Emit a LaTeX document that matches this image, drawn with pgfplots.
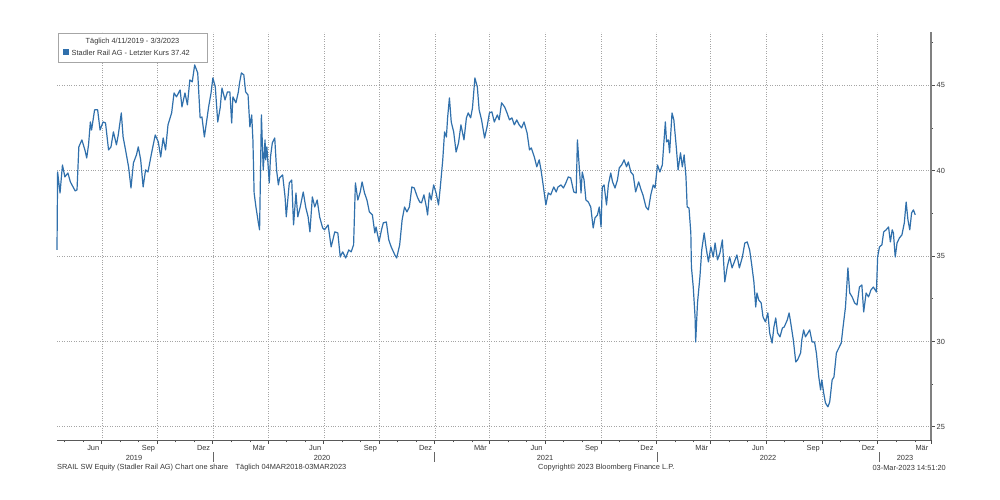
\documentclass[border=0pt]{standalone}
\usepackage{fontspec}
\setmainfont{Liberation Sans}
\usepackage{pgfplots}
\pgfplotsset{compat=1.18}
\definecolor{linec}{RGB}{48,112,172}
\definecolor{gridc}{RGB}{165,165,165}
\definecolor{txt}{RGB}{55,55,55}
\newcommand{\fs}{\fontsize{7.4bp}{8.5bp}\selectfont}
\begin{document}
\begin{tikzpicture}
\fill[white] (0,0) rectangle (1000bp,500bp);
\useasboundingbox (0,0) rectangle (1000bp,500bp);
\begin{axis}[
  at={(57bp,59.5bp)}, anchor=south west,
  scale only axis, width=874bp, height=408bp,
  xmin=-257, xmax=1184, ymin=24.2, ymax=48.1,
  axis x line*=bottom, axis y line*=right,
  x axis line style={black!65, line width=0.8bp},
  y axis line style={black!50, line width=1.6bp},
  xtick={-183,-91,0,91,183,275,366,456,548,640,731,821,913,1005,1096,1184},
  xticklabels={Jun,Sep,Dez,Mär,Jun,Sep,Dez,Mär,Jun,Sep,Dez,Mär,Jun,Sep,Dez,Mär},
  minor xtick={-244,-214,-153,-122,-61,-30,31,62,122,152,213,244,305,336,397,428,487,517,578,609,670,701,762,793,852,882,943,974,1035,1066,1127,1158},
  ytick={25,30,35,40,45},
  minor ytick={27.5,32.5,37.5,42.5,47.5},
  tick align=outside,
  major tick length=3.5bp, minor tick length=2bp,
  every tick/.style={black!70, line width=0.8bp},
  grid=major,
  major grid style={gridc, dash pattern=on 0.8bp off 1.6bp, line width=0.7bp},
  ticklabel style={font=\fs, text=txt},
  /pgf/number format/assume math mode=true,
  xticklabel style={anchor=north east, inner sep=0pt, xshift=-2.5bp, yshift=-1bp},
  yticklabel style={anchor=west, inner sep=0pt, xshift=2bp},
  clip=false,
]
\addplot[linec, line width=1.2bp, line join=round] coordinates {
(-257,35.36)(-256,39.93)(-252,38.70)(-248,40.34)(-244,39.64)(-239,39.87)(-235,39.35)(-227,38.82)(-224,38.88)
(-221,41.40)(-216,41.81)(-211,41.22)(-208,40.75)(-205,41.52)(-202,42.86)(-200,42.39)(-195,43.57)(-190,43.57)
(-186,42.39)(-181,42.86)(-177,42.80)(-172,41.22)(-168,41.40)(-164,42.28)(-159,41.52)(-156,42.10)(-151,43.39)
(-148,41.98)(-144,41.22)(-139,40.23)(-135,38.99)(-131,40.46)(-126,40.93)(-123,41.40)(-119,40.64)(-115,39.05)
(-111,40.05)(-107,39.93)(-101,41.05)(-95,42.10)(-90,41.69)(-86,40.81)(-82,41.92)(-78,41.22)(-74,42.69)
(-68,43.39)(-64,44.56)(-60,44.33)(-54,44.74)(-51,43.74)(-46,44.56)(-42,43.86)(-38,45.32)(-34,45.21)
(-30,46.20)(-25,45.73)(-21,43.10)(-18,43.15)(-14,41.98)(-10,42.98)(-7,43.74)(-3,44.56)(0,45.44)
(4,44.91)(8,42.86)(12,43.68)(15,44.85)(20,44.15)(24,44.62)(28,44.62)(31,42.80)(33,44.33)(38,43.98)
(42,44.62)(44,45.15)(47,45.73)(51,45.62)(54,44.62)(58,44.44)(61,42.57)(64,43.27)(66,41.81)(68,38.70)
(71,37.88)(75,36.95)(77,36.54)(80,43.27)(83,40.05)(86,41.81)(87,40.64)(89,41.40)(93,39.29)(95,40.81)
(98,41.63)(102,41.92)(105,40.05)(108,39.17)(110,39.58)(115,39.76)(119,38.47)(121,37.30)(126,39.29)
(130,39.46)(133,36.83)(137,38.70)(140,37.30)(144,37.88)(149,38.76)(153,37.88)(157,37.30)(160,36.42)
(164,38.47)(168,37.88)(172,38.29)(176,37.30)(181,36.65)(184,36.54)(190,36.83)(195,35.54)(201,36.42)
(206,36.36)(210,34.95)(214,35.25)(219,34.89)(224,35.36)(228,35.25)(232,35.66)(235,39.29)(239,38.29)
(243,38.76)(246,39.35)(250,38.70)(254,38.29)(258,37.59)(263,37.41)(267,36.36)(269,36.71)(274,35.83)
(278,36.54)(281,36.95)(286,37.00)(290,35.95)(294,35.54)(300,35.07)(303,34.89)(308,35.66)(312,37.12)
(316,37.88)(320,37.59)(324,37.88)(328,39.05)(332,38.99)(337,38.47)(341,38.17)(344,38.12)(348,38.59)
(352,37.88)(354,37.41)(357,38.70)(360,38.29)(364,39.17)(368,38.70)(372,38.00)(375,39.05)(379,40.64)
(382,42.28)(385,41.98)(387,43.10)(390,44.27)(393,42.86)(397,42.28)(401,41.10)(405,41.63)(409,42.69)
(414,41.81)(418,43.10)(421,43.39)(425,43.10)(428,43.68)(432,45.44)(436,44.91)(439,43.57)(443,42.98)
(448,41.92)(452,42.57)(456,43.39)(460,43.45)(464,42.86)(469,43.27)(472,42.98)(476,43.98)(481,43.74)
(485,43.39)(489,42.98)(493,43.10)(497,42.69)(501,42.98)(505,42.69)(509,42.51)(513,42.86)(518,42.22)
(522,41.22)(525,41.34)(530,40.81)(534,40.23)(538,40.64)(541,40.05)(545,39.05)(549,38.00)(553,38.70)
(557,38.59)(562,39.05)(566,38.76)(569,39.05)(574,39.17)(578,38.99)(582,39.29)(586,39.64)(590,39.58)
(595,38.76)(599,38.70)(601,41.81)(607,38.70)(609,39.93)(612,39.46)(615,38.29)(619,38.17)(623,37.88)
(627,36.65)(630,37.24)(634,37.41)(637,37.88)(640,36.71)(642,39.05)(645,39.17)(649,38.00)(652,39.17)
(656,39.87)(659,39.35)(663,38.99)(667,39.46)(670,40.17)(674,40.34)(678,40.64)(682,40.23)(685,40.52)
(689,39.93)(693,39.76)(697,38.76)(702,39.35)(706,38.88)(709,38.59)(714,37.88)(718,37.71)(722,38.59)
(726,39.17)(729,38.99)(733,40.34)(737,39.93)(741,40.34)(746,42.86)(748,41.69)(751,41.81)(753,41.05)
(757,43.39)(760,42.98)(764,41.40)(767,40.05)(771,41.05)(774,40.23)(777,40.93)(780,39.64)(782,37.88)
(785,37.82)(788,36.36)(789,34.37)(792,33.19)(795,31.44)(796,29.97)(799,32.26)(803,33.78)(806,35.36)
(810,36.36)(813,35.54)(817,34.66)(821,35.54)(825,34.95)(828,35.77)(832,34.78)(836,35.19)(840,35.95)
(844,33.49)(848,34.37)(852,34.95)(856,34.31)(861,34.78)(864,35.07)(868,34.31)(873,34.95)(877,35.77)
(881,35.83)(885,35.36)(888,34.60)(892,33.49)(895,32.02)(897,32.84)(900,32.43)(904,32.26)(907,31.44)
(911,31.15)(915,31.67)(918,30.50)(922,29.91)(925,30.85)(928,31.38)(931,30.50)(935,30.27)(939,30.79)
(942,30.85)(947,31.26)(950,31.67)(952,31.26)(957,30.09)(961,28.80)(964,28.92)(969,29.33)(971,30.09)
(974,30.68)(977,30.27)(981,30.50)(984,30.68)(988,29.97)(992,29.97)(995,29.33)(999,27.92)(1002,27.16)
(1004,27.75)(1007,26.99)(1010,26.40)(1014,26.17)(1017,26.46)(1021,27.75)(1024,27.92)(1028,29.33)
(1032,29.62)(1036,29.91)(1039,30.85)(1043,32.02)(1047,34.31)(1050,32.84)(1054,32.61)(1058,32.26)
(1062,32.14)(1066,33.19)(1070,33.31)(1073,31.73)(1077,32.84)(1081,32.61)(1085,33.02)(1089,33.19)
(1094,32.90)(1096,34.95)(1099,35.54)(1103,35.66)(1106,36.42)(1110,36.54)(1114,36.71)(1117,35.83)
(1120,36.54)(1122,36.36)(1125,34.95)(1128,35.77)(1132,36.07)(1136,36.24)(1140,36.95)(1143,38.17)
(1146,37.12)(1149,36.54)(1152,37.53)(1155,37.71)(1158,37.42)
};
\end{axis}
% legend box
\draw[black!35, fill=white] (58bp,467bp) rectangle (207bp,438bp);
\node[font=\fs, text=txt] at (132.5bp,458bp) {Täglich 4/11/2019 - 3/3/2023};
\fill[linec] (63bp,444.5bp) rectangle (69bp,450.5bp);
\node[font=\fs, text=txt, anchor=west, inner sep=0pt] at (71.5bp,447.5bp) {Stadler Rail AG - Letzter Kurs 37.42};
% years
\foreach \xx/\yy in {134/2019,322/2020,545/2021,768/2022,905/2023}
  \node[font=\fs, text=txt] at (\xx bp,42bp) {\yy};
\foreach \xx in {213,434,657,879}
  \draw[black!60, line width=0.7bp] (\xx bp,38bp) -- (\xx bp,48bp);
% footer
\node[font=\fs, text=txt, anchor=west, inner sep=0pt] at (57bp,32bp) {SRAIL SW Equity (Stadler Rail AG) Chart one share\quad Täglich 04MAR2018-03MAR2023};
\node[font=\fs, text=txt, anchor=west, inner sep=0pt] at (538bp,32bp) {Copyright© 2023 Bloomberg Finance L.P.};
\node[font=\fs, text=txt, anchor=east, inner sep=0pt] at (946bp,32bp) {03-Mar-2023 14:51:20};
\end{tikzpicture}
\end{document}
